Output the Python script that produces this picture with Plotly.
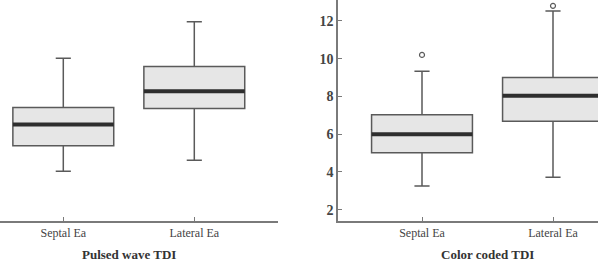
import plotly.graph_objects as go
from plotly.subplots import make_subplots

# ---- data ----
categories = ["Septal Ea", "Lateral Ea"]
positions = [0, 1]

# Pulsed wave TDI
pw_lower = [4.03, 4.62]
pw_q1 = [5.39, 7.36]
pw_median = [6.51, 8.27]
pw_q3 = [7.41, 9.58]
pw_upper = [10.02, 11.96]

# Color coded TDI
cc_lower = [3.26, 3.72]
cc_q1 = [5.02, 6.68]
cc_median = [6.0, 8.03]
cc_q3 = [7.03, 9.0]
cc_upper = [9.33, 12.53]
cc_outlier_x = [0, 1]
cc_outlier_y = [10.2, 12.8]

y_ticks = [2, 4, 6, 8, 10, 12]
panel_titles = ["Pulsed wave TDI", "Color coded TDI"]

# ---- style ----
BOX_W = 0.77
FILL = "#e6e6e6"
EDGE = "#5a5a5a"
MED = "#2e2e2e"
AXIS = "#7a7a7a"
SERIF = "Liberation Serif"

fig = make_subplots(rows=1, cols=2)

panels = [
    (pw_lower, pw_q1, pw_median, pw_q3, pw_upper, None, None),
    (cc_lower, cc_q1, cc_median, cc_q3, cc_upper, cc_outlier_x, cc_outlier_y),
]

for col, (lo, q1, med, q3, up, ox, oy) in enumerate(panels, start=1):
    fig.add_trace(go.Box(
        x=positions, lowerfence=lo, q1=q1, median=med, q3=q3, upperfence=up,
        width=BOX_W, whiskerwidth=0.15, fillcolor=FILL,
        line=dict(color=EDGE, width=1.5), boxpoints=False, showlegend=False,
        hoverinfo="skip",
    ), row=1, col=col)
    for p, m in zip(positions, med):
        fig.add_trace(go.Scatter(
            x=[p - BOX_W / 2, p + BOX_W / 2], y=[m, m], mode="lines",
            line=dict(color=MED, width=4), showlegend=False, hoverinfo="skip",
        ), row=1, col=col)
    if ox is not None:
        fig.add_trace(go.Scatter(
            x=ox, y=oy, mode="markers",
            marker=dict(symbol="circle-open", size=5, color=EDGE, line=dict(width=1.2)),
            showlegend=False, hoverinfo="skip",
        ), row=1, col=col)

W, H = 598, 267
left_px = (0, 278)
right_px = (338, 598)
cat_spacing = 131.0

fig.update_layout(
    width=W, height=H, margin=dict(l=0, r=0, t=0, b=46),
    paper_bgcolor="white", plot_bgcolor="white",
    font=dict(family=SERIF, color="#444444"),
)

common_x = dict(
    tickvals=positions, ticktext=categories, showline=True, linecolor=AXIS,
    linewidth=1.5, ticks="inside", ticklen=4, tickcolor=AXIS, tickwidth=1,
    showgrid=False, zeroline=False, tickfont=dict(family=SERIF, size=12, color="#444444"),
)
fig.update_xaxes(common_x)
fig.update_layout(
    xaxis=dict(domain=[left_px[0] / W, left_px[1] / W],
               range=[-63.3 / cat_spacing, (278 - 63.3) / cat_spacing]),
    xaxis2=dict(domain=[right_px[0] / W, 1.0],
                range=[-(422 - 338) / cat_spacing, (598 - 422) / cat_spacing]),
    yaxis=dict(visible=False, range=[1.40, 13.11]),
    yaxis2=dict(range=[1.40, 13.11], tickvals=y_ticks, showline=True, linecolor=AXIS,
                linewidth=1.5, ticks="inside", ticklen=4, tickcolor=AXIS,
                showgrid=False, zeroline=False,
                tickfont=dict(family=SERIF, size=14, color="#444444", weight="bold")),
)

for i, t in enumerate(panel_titles):
    fig.add_annotation(
        text=t, xref="x" if i == 0 else "x2", yref="paper", x=0.5, y=0,
        yanchor="middle", yshift=-33, showarrow=False,
        font=dict(family=SERIF, size=13, color="#333333", weight="bold"),
    )

fig.write_html("out.html")
